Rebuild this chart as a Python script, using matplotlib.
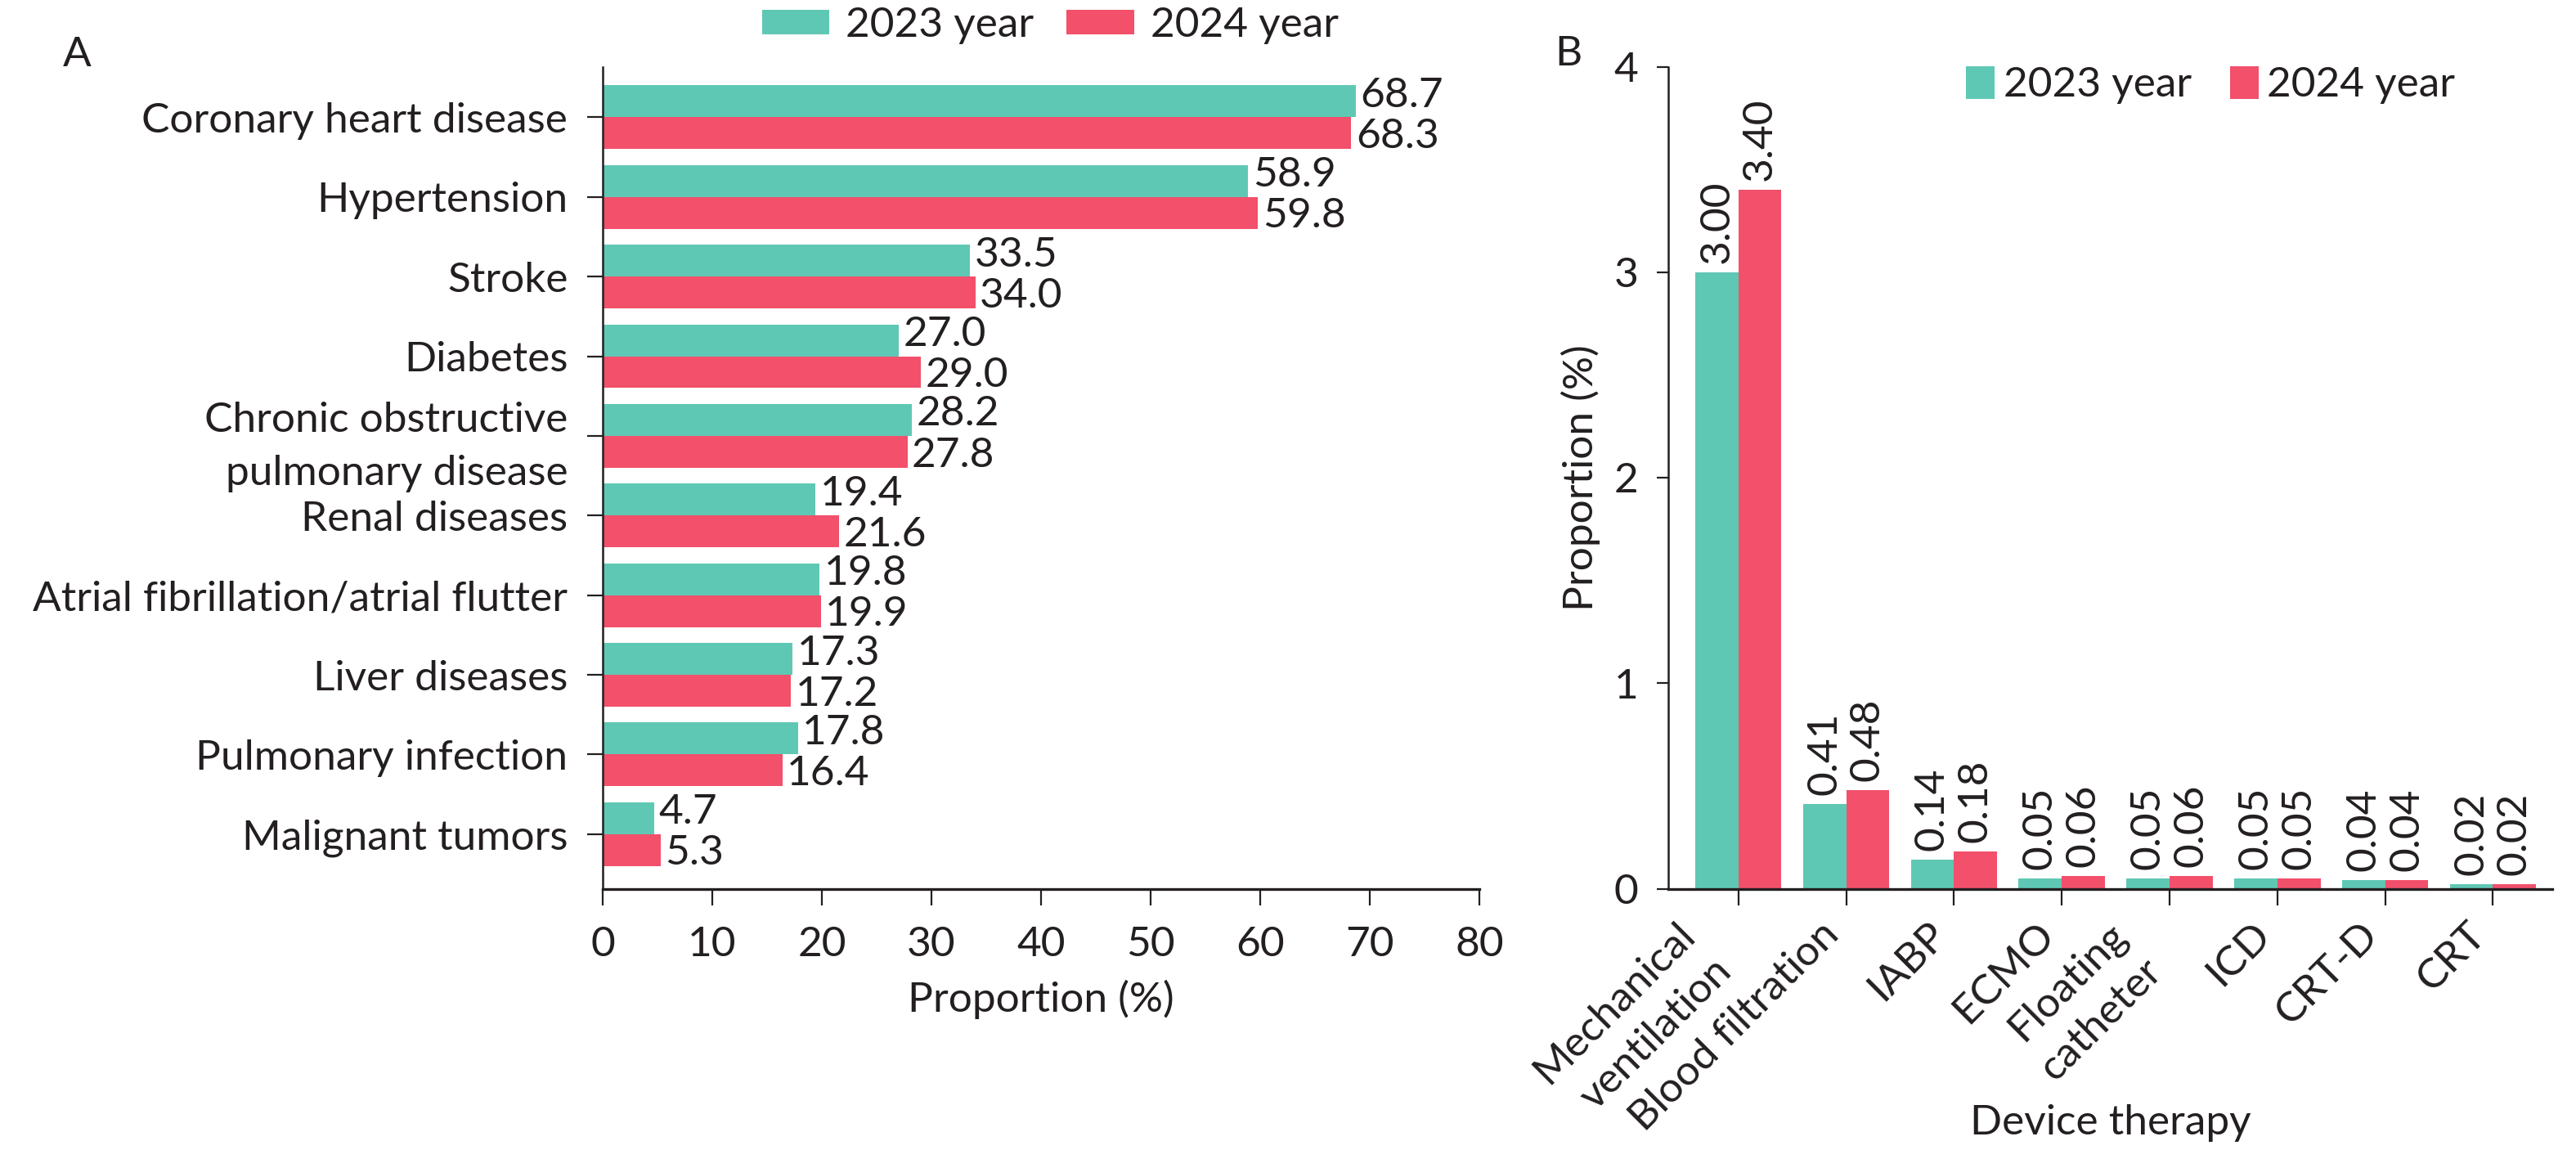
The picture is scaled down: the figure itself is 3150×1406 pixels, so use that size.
import matplotlib
matplotlib.use("Agg")
import matplotlib.pyplot as plt
import matplotlib.transforms as mtransforms
import numpy as np

plt.rcParams['font.family'] = ['Lato', 'DejaVu Sans']
TXT = '#231F20'
plt.rcParams['text.color'] = TXT
plt.rcParams['axes.labelcolor'] = TXT
plt.rcParams['xtick.color'] = TXT
plt.rcParams['ytick.color'] = TXT
plt.rcParams['axes.edgecolor'] = TXT

# ---------------- data ----------------
series_names = ['2023 year', '2024 year']
colors = ['#5FC8B4', '#F2506B']

diseases = ['Coronary heart disease', 'Hypertension', 'Stroke', 'Diabetes',
            'Chronic obstructive\npulmonary disease', 'Renal diseases',
            'Atrial fibrillation/atrial flutter', 'Liver diseases',
            'Pulmonary infection', 'Malignant tumors']
dis_2023 = [68.7, 58.9, 33.5, 27.0, 28.2, 19.4, 19.8, 17.3, 17.8, 4.7]
dis_2024 = [68.3, 59.8, 34.0, 29.0, 27.8, 21.6, 19.9, 17.2, 16.4, 5.3]
a_xticks = [0, 10, 20, 30, 40, 50, 60, 70, 80]

devices = ['Mechanical\nventilation', 'Blood filtration', 'IABP', 'ECMO',
           'Floating\ncatheter', 'ICD', 'CRT-D', 'CRT']
dev_2023 = [3.00, 0.41, 0.14, 0.05, 0.05, 0.05, 0.04, 0.02]
dev_2024 = [3.40, 0.48, 0.18, 0.06, 0.06, 0.05, 0.04, 0.02]
b_yticks = [0, 1, 2, 3, 4]

FS = 37
W, H = 3150, 1406
fig = plt.figure(figsize=(W / 100, H / 100), dpi=100)

def fx(px):
    return px / W

def fy(py):
    return 1 - py / H

# ---------------- panel A ----------------
axA = fig.add_axes([fx(737), fy(1087), fx(1809) - fx(737), fy(82) - fy(1087)])
yA = np.arange(len(diseases))
bw = 0.4
bA1 = axA.barh(yA - bw / 2, dis_2023, height=bw, color=colors[0], label=series_names[0])
bA2 = axA.barh(yA + bw / 2, dis_2024, height=bw, color=colors[1], label=series_names[1])
axA.set_ylim(9.69, -0.63)
axA.set_xlim(0, 80)
axA.set_xticks(a_xticks)
axA.set_yticks(yA)
axA.set_yticklabels(diseases, fontsize=FS, linespacing=1.5)
axA.tick_params(axis='x', labelsize=FS, length=14.4, width=1.6, pad=18)
axA.tick_params(axis='y', length=13.7, width=1.6, pad=17)
for s in ['top', 'right']:
    axA.spines[s].set_visible(False)
axA.spines['left'].set_linewidth(1.8)
axA.spines['bottom'].set_linewidth(2.4)
labsA1 = axA.bar_label(bA1, fmt='%.1f', padding=4, fontsize=FS)
labsA2 = axA.bar_label(bA2, fmt='%.1f', padding=4, fontsize=FS)
for t in labsA1:
    t.xyann = (4, 5)
for t in labsA2:
    t.xyann = (4, -3)
axA.set_xlabel('Proportion (%)', fontsize=FS)
axA.xaxis.label.set_va('center')
axA.xaxis.set_label_coords(0.5, (1087 - 1222) / (1087 - 82))

fig.legend(handles=[bA1, bA2], labels=series_names, loc='center left',
           bbox_to_anchor=(fx(932), fy(31.5)), frameon=False, ncol=2,
           fontsize=FS, handlelength=1.6, handleheight=0.53,
           handletextpad=0.39, columnspacing=0.78, borderpad=0, borderaxespad=0)

fig.text(fx(94), fy(67), 'A', fontsize=FS, ha='center', va='center')

# ---------------- panel B ----------------
axB = fig.add_axes([fx(2040), fy(1086.5), fx(3121) - fx(2040), fy(81.5) - fy(1086.5)])
xB = np.arange(len(devices))
bB1 = axB.bar(xB - bw / 2, dev_2023, width=bw, color=colors[0], label=series_names[0])
bB2 = axB.bar(xB + bw / 2, dev_2024, width=bw, color=colors[1], label=series_names[1])
axB.set_xlim(-0.65, 7.55)
axB.set_ylim(0, 4)
axB.set_yticks(b_yticks)
axB.set_xticks(xB)
axB.set_xticklabels(devices, fontsize=FS, rotation=45, ha='right', va='top',
                    rotation_mode='default', multialignment='right',
                    linespacing=1.45)
for lab in axB.get_xticklabels():
    lab.set_transform(lab.get_transform() +
                      mtransforms.ScaledTranslation(22 / 72, 0, fig.dpi_scale_trans))
axB.tick_params(axis='y', labelsize=FS, length=10, width=1.6, pad=16.5)
axB.tick_params(axis='x', length=14.4, width=1.6, pad=9)
for s in ['top', 'right']:
    axB.spines[s].set_visible(False)
axB.spines['left'].set_linewidth(1.8)
axB.spines['bottom'].set_linewidth(2.4)
axB.bar_label(bB1, fmt='%.2f', padding=8, fontsize=FS, rotation=90)
axB.bar_label(bB2, fmt='%.2f', padding=8, fontsize=FS, rotation=90)
axB.set_xlabel('Device therapy', fontsize=FS)
axB.xaxis.label.set_va('center')
axB.xaxis.set_label_coords(0.5, (1086.5 - 1373) / (1086.5 - 81.5))
fig.text(fx(1933), fy(584), 'Proportion (%)', fontsize=FS, rotation=90,
         ha='center', va='center')

axB.legend(handles=[bB1, bB2], labels=series_names, loc='center left',
           bbox_to_anchor=(fx(2404), fy(104)), bbox_transform=fig.transFigure,
           frameon=False, ncol=2, fontsize=FS, handlelength=0.68,
           handleheight=0.82, handletextpad=0.21, columnspacing=0.91,
           borderpad=0, borderaxespad=0)

fig.text(fx(1918), fy(66), 'B', fontsize=FS, ha='center', va='center')

fig.savefig('out.png', dpi=100)
